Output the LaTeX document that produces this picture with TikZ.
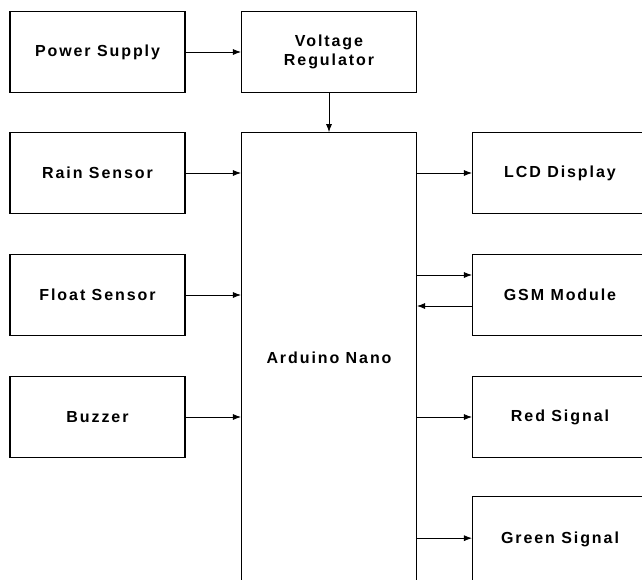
\documentclass[tikz,border=0pt]{standalone}
\usepackage{fontspec}
\setmainfont{Liberation Sans}[LetterSpace=12]
\usepackage{tikz}
\usetikzlibrary{arrows.meta}

\tikzset{
  block/.style={draw, thick, rectangle, minimum width=131.25pt, minimum height=60.75pt,
    align=center, inner sep=0pt, font=\bfseries\fontsize{12}{14}\selectfont},
  link/.style={-{Latex[length=6pt,width=4.5pt]}, semithick}
}

\begin{document}
\begin{tikzpicture}[x=0.75pt, y=-0.75pt]
    \useasboundingbox (0,0) rectangle (642,579);
    \clip (0,0) rectangle (642,579);

    % left column
    \node[block] (power) at (97.5,52)  {Power Supply};
    \node[block] (rain)  at (97.5,173) {Rain Sensor};
    \node[block] (float) at (97.5,295) {Float Sensor};
    \node[block] (buzz)  at (97.5,417) {Buzzer};

    % middle column
    \node[block] (reg) at (329,52) {Voltage\\Regulator};
    \node[block, minimum height=338pt] (nano) at (329,358) {Arduino Nano};

    % right column
    \node[block] (lcd)   at (560,173) {LCD Display};
    \node[block] (gsm)   at (560,295) {GSM Module};
    \node[block] (red)   at (560,417) {Red Signal};
    \node[block, minimum height=64pt] (green) at (560,539.5) {Green Signal};

    % connectors
    \draw[link] (power) -- (reg);
    \draw[link] (reg) -- (nano);
    \draw[link] (rain.east) -- (rain.east -| nano.west);
    \draw[link] (float.east) -- (float.east -| nano.west);
    \draw[link] (buzz.east) -- (buzz.east -| nano.west);
    \draw[link] (lcd.west -| nano.east) -- (lcd.west);
    \draw[link] ([yshift=15pt]gsm.west -| nano.east) -- ([yshift=15pt]gsm.west);
    \draw[link] ([yshift=-8.25pt]gsm.west) -- ([yshift=-8.25pt]gsm.west -| nano.east);
    \draw[link] (red.west -| nano.east) -- (red.west);
    \draw[link] ([yshift=1pt]green.west -| nano.east) -- ([yshift=1pt]green.west);
\end{tikzpicture}
\end{document}
